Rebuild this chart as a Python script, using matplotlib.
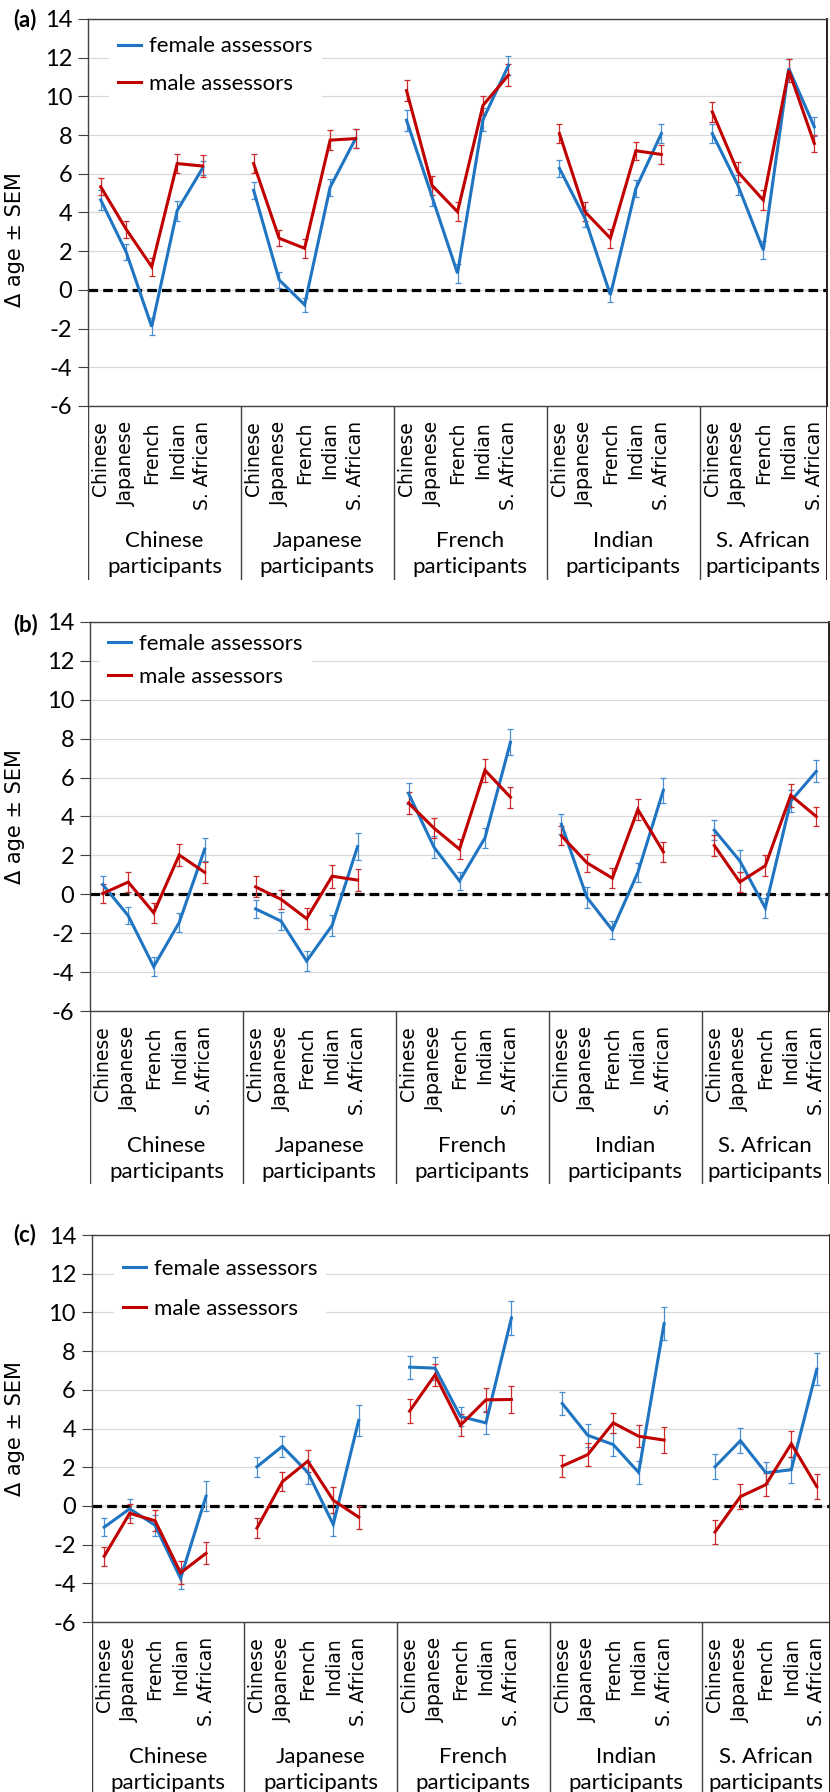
import numpy as np
import matplotlib
matplotlib.use("Agg")
import matplotlib.pyplot as plt
from matplotlib.font_manager import FontProperties

# ---------------- data ----------------
participant_groups = ["Chinese", "Japanese", "French", "Indian", "S. African"]
assessor_categories = ["Chinese", "Japanese", "French", "Indian", "S. African"]
series_labels = ["female assessors", "male assessors"]
ytick_values = [-6, -4, -2, 0, 2, 4, 6, 8, 10, 12, 14]
ytick_labels = ["-6", "-4", "-2", "0", "2", "4", "6", "8", "10", "12", "14"]
panel_labels = ["(a)", "(b)", "(c)"]

a_female = [4.65, 1.95, -1.9, 4.1, 6.3,
            5.15, 0.52, -0.77, 5.3, 7.82,
            8.77, 4.82, 0.86, 8.8, 11.6,
            6.28, 3.7, -0.26, 5.24, 8.08,
            8.08, 5.42, 2.06, 11.44, 8.43]
a_female_sem = [0.5, 0.43, 0.43, 0.52, 0.35,
                0.45, 0.4, 0.35, 0.45, 0.5,
                0.55, 0.5, 0.5, 0.6, 0.5,
                0.45, 0.45, 0.35, 0.45, 0.5,
                0.5, 0.5, 0.45, 0.5, 0.5]
a_male = [5.33, 3.13, 1.2, 6.53, 6.4,
          6.53, 2.67, 2.15, 7.74, 7.82,
          10.3, 5.4, 4.04, 9.54, 11.1,
          8.08, 4.04, 2.67, 7.19, 7.0,
          9.2, 6.1, 4.64, 11.35, 7.57]
a_male_sem = [0.43, 0.45, 0.47, 0.5, 0.55,
              0.5, 0.4, 0.5, 0.5, 0.5,
              0.55, 0.5, 0.5, 0.5, 0.55,
              0.48, 0.5, 0.49, 0.47, 0.5,
              0.5, 0.5, 0.5, 0.6, 0.43]

b_female = [0.5, -1.1, -3.72, -1.45, 2.32,
            -0.75, -1.38, -3.43, -1.6, 2.45,
            5.19, 2.42, 0.69, 2.9, 7.82,
            3.6, -0.16, -1.84, 1.13, 5.35,
            3.3, 1.72, -0.7, 4.79, 6.32]
b_female_sem = [0.45, 0.45, 0.5, 0.5, 0.6,
                0.45, 0.45, 0.5, 0.55, 0.7,
                0.53, 0.56, 0.45, 0.52, 0.66,
                0.52, 0.53, 0.46, 0.5, 0.64,
                0.5, 0.57, 0.5, 0.56, 0.56]
b_male = [0.04, 0.63, -0.95, 2.02, 1.13,
          0.38, -0.26, -1.25, 0.93, 0.73,
          4.69, 3.4, 2.32, 6.38, 4.99,
          3.01, 1.62, 0.83, 4.36, 2.18,
          2.51, 0.63, 1.47, 5.09, 4.0]
b_male_sem = [0.5, 0.5, 0.5, 0.57, 0.54,
              0.54, 0.5, 0.54, 0.6, 0.56,
              0.56, 0.5, 0.5, 0.6, 0.54,
              0.48, 0.46, 0.5, 0.54, 0.52,
              0.52, 0.5, 0.54, 0.6, 0.5]

c_female = [-1.1, -0.15, -1.0, -3.75, 0.5,
            2.02, 3.08, 1.73, -0.96, 4.42,
            7.17, 7.12, 4.62, 4.29, 9.71,
            5.29, 3.65, 3.17, 1.73, 9.42,
            2.02, 3.37, 1.71, 1.87, 7.06]
c_female_sem = [0.45, 0.5, 0.53, 0.55, 0.77,
                0.53, 0.53, 0.6, 0.61, 0.82,
                0.6, 0.6, 0.5, 0.6, 0.88,
                0.58, 0.6, 0.58, 0.6, 0.84,
                0.64, 0.64, 0.56, 0.67, 0.82]
c_male = [-2.6, -0.38, -0.77, -3.46, -2.45,
          -1.15, 1.25, 2.31, 0.29, -0.58,
          4.9, 6.77, 4.17, 5.48, 5.5,
          2.06, 2.65, 4.29, 3.6, 3.4,
          -1.35, 0.48, 1.1, 3.21, 1.0]
c_male_sem = [0.5, 0.5, 0.55, 0.6, 0.57,
              0.52, 0.5, 0.58, 0.67, 0.6,
              0.6, 0.56, 0.56, 0.62, 0.69,
              0.58, 0.58, 0.53, 0.58, 0.67,
              0.64, 0.63, 0.6, 0.67, 0.65]

panels_data = [
    (a_female, a_female_sem, a_male, a_male_sem),
    (b_female, b_female_sem, b_male, b_male_sem),
    (c_female, c_female_sem, c_male, c_male_sem),
]

# ---------------- style / layout ----------------
W, H = 830, 1792
FEMALE = "#1F75C2"
MALE = "#C00000"
FEMALE_ERR = "#4A8ED2"
MALE_ERR = "#CC2A2A"
SPINE = "#404040"
GRID = "#D9D9D9"

# pixel layout per panel: left, right, top(y=14), bottom(y=-6), box bottom
layout = [
    dict(left=88, right=827, top=19, bottom=406, box=580,
         leg=(0.028, 0.978), ls=0.8, ylab_y=0.43, tag_y=20),
    dict(left=90, right=829, top=622, bottom=1011, box=1184,
         leg=(0.012, 0.993), ls=0.6, ylab_y=0.50, tag_y=625),
    dict(left=91.5, right=829.5, top=1235, bottom=1622, box=1796,
         leg=(0.03, 0.962), ls=0.9, ylab_y=0.50, tag_y=1235),
]

calib = "Lato"
verd = "DejaVu Sans"

fig = plt.figure(figsize=(W / 100, H / 100), dpi=100)
fig.patch.set_facecolor("white")

n_groups = len(participant_groups)
n_cat = len(assessor_categories)
slots = n_cat + 1  # one blank slot between groups
x_all = np.arange(n_groups * slots, dtype=float)
cat_mask = (x_all % slots) < n_cat
x_cats = x_all[cat_mask]
xlim = (-0.5, n_groups * slots - 1.5)
dividers = [g * slots - 0.5 for g in range(n_groups)] + [xlim[1]]


def to_slots(vals):
    arr = np.full(len(x_all), np.nan)
    arr[cat_mask] = vals
    return arr


for p, (lay, data) in enumerate(zip(layout, panels_data)):
    L, R, T, B, BX = lay["left"], lay["right"], lay["top"], lay["bottom"], lay["box"]
    ax = fig.add_axes([L / W, 1 - B / H, (R - L) / W, (B - T) / H])
    axb = fig.add_axes([L / W, 1 - BX / H, (R - L) / W, (BX - B) / H])

    f, fs, m, ms = data
    ax.axhline(0, color="black", lw=2.3, ls=(0, (3, 1.6)), zorder=1.5)
    ax.errorbar(x_cats, f, yerr=fs, fmt="none", ecolor=FEMALE_ERR,
                elinewidth=0.9, capsize=2.5, capthick=0.9, zorder=2.6)
    ax.errorbar(x_cats, m, yerr=ms, fmt="none", ecolor=MALE_ERR,
                elinewidth=0.9, capsize=2.5, capthick=0.9, zorder=2.7)
    lf, = ax.plot(x_all, to_slots(f), color=FEMALE, lw=2.2, zorder=3,
                  solid_joinstyle="miter")
    lm, = ax.plot(x_all, to_slots(m), color=MALE, lw=2.2, zorder=3.1,
                  solid_joinstyle="miter")

    ax.set_xlim(*xlim)
    ax.set_ylim(-6, 14)
    ax.set_yticks(ytick_values)
    ax.set_yticklabels(ytick_labels, fontfamily=calib, fontsize=17)
    ax.yaxis.grid(True, color=GRID, lw=0.9)
    ax.set_axisbelow(True)
    ax.tick_params(axis="y", direction="out", length=7.2, width=0.8,
                   color=SPINE, pad=4.0)
    ax.set_xticks(x_cats)
    ax.set_xticklabels(assessor_categories * n_groups, rotation=90,
                       fontfamily=verd, fontsize=13.5)
    ax.tick_params(axis="x", length=0, pad=11.0)
    for s in ax.spines.values():
        s.set_color(SPINE)
        s.set_linewidth(1.0)
    ax.spines["right"].set_color("#222222")
    ax.spines["right"].set_linewidth(1.4)

    ax.set_ylabel("\u0394 age \u00b1 SEM", fontfamily=verd, fontsize=15)
    ax.yaxis.set_label_coords((25 - L) / (R - L), lay["ylab_y"])

    ax.legend([lf, lm], series_labels, loc="upper left",
              bbox_to_anchor=lay["leg"], frameon=True, facecolor="white",
              edgecolor="none", framealpha=1, fancybox=False, borderpad=0.4,
              handlelength=1.05, handletextpad=0.37, labelspacing=lay["ls"],
              borderaxespad=0, prop=FontProperties(family=calib, size=16))

    # category box
    axb.set_xlim(*xlim)
    axb.set_ylim(0, 1)
    axb.axis("off")
    axb.vlines(dividers[:-1], 0, 1, color=SPINE, lw=1.0)
    axb.vlines(dividers[-1:], 0, 1, color="#222222", lw=1.4)
    label_y = (BX - (554 + (B - 406))) / (BX - B)
    for g, name in enumerate(participant_groups):
        cx = 0.5 * (dividers[g] + dividers[g + 1])
        axb.text(cx, label_y, name + "\nparticipants", ha="center", va="center",
                 fontfamily=calib, fontsize=16, linespacing=1.35)

    fig.text(13 / W, 1 - lay["tag_y"] / H, panel_labels[p], ha="left",
             va="center", fontfamily=calib, fontweight="bold", fontsize=16)

fig.savefig("out.png", dpi=100, facecolor="white")
